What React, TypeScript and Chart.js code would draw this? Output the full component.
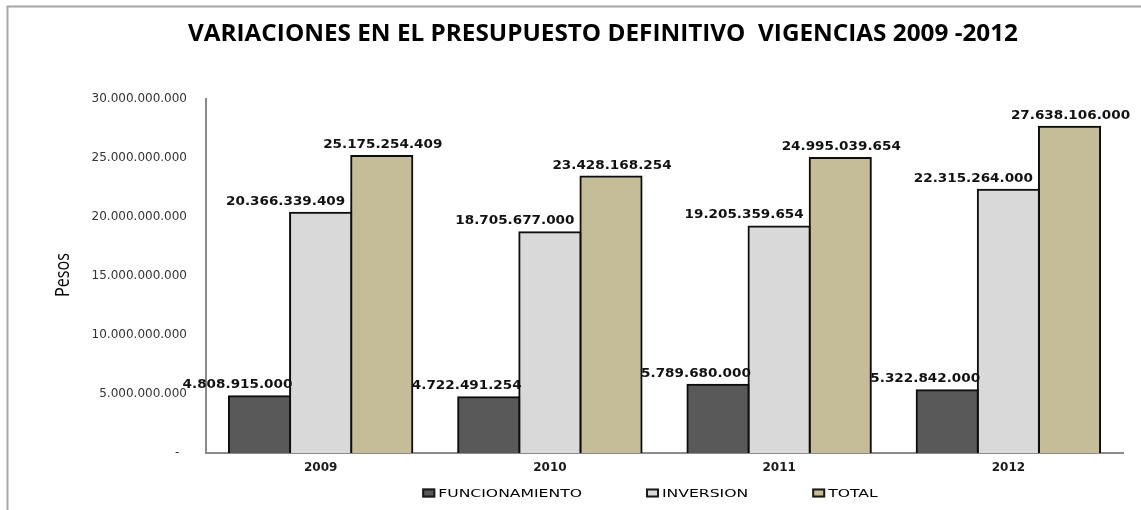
import React, { useEffect, useRef } from "react";
import { Chart, registerables } from "chart.js";

Chart.register(...registerables);

const categories = ["2009", "2010", "2011", "2012"];
const funcionamiento = [4808915000, 4722491254, 5789680000, 5322842000];
const inversion = [20366339409, 18705677000, 19205359654, 22315264000];
const total = [25175254409, 23428168254, 24995039654, 27638106000];
const seriesNames = ["FUNCIONAMIENTO", "INVERSION", "TOTAL"];
const yTickLabels = [
  "-",
  "5.000.000.000",
  "10.000.000.000",
  "15.000.000.000",
  "20.000.000.000",
  "25.000.000.000",
  "30.000.000.000",
];
const chartTitle = "VARIACIONES EN EL PRESUPUESTO DEFINITIVO  VIGENCIAS 2009 -2012";
const yAxisTitle = "Pesos";

const colors = ["#595959", "#D9D9D9", "#C4BD97"];
const labelOffsets = [-22, -35, 1];

function fmt(v: number): string {
  return Math.round(v)
    .toString()
    .replace(/\B(?=(\d{3})+(?!\d))/g, ".");
}

function drawText(
  ctx: CanvasRenderingContext2D,
  text: string,
  x: number,
  y: number,
  font: string,
  color: string,
  sx: number,
  align: "left" | "center" | "right",
  baseline: CanvasTextBaseline = "alphabetic",
  targetWidth?: number
): number {
  ctx.save();
  ctx.font = font;
  ctx.fillStyle = color;
  ctx.textAlign = "left";
  ctx.textBaseline = baseline;
  const mw = ctx.measureText(text).width;
  const s = targetWidth ? targetWidth / mw : sx;
  const w = mw * s;
  const x0 = align === "center" ? x - w / 2 : align === "right" ? x - w : x;
  ctx.translate(x0, y);
  ctx.scale(s, 1);
  ctx.fillText(text, 0, 0);
  ctx.restore();
  return w;
}

const decorPlugin = {
  id: "decor",
  beforeDraw(chart: any) {
    const ctx: CanvasRenderingContext2D = chart.ctx;
    ctx.save();
    ctx.fillStyle = "#ffffff";
    ctx.fillRect(0, 0, chart.width, chart.height);
    ctx.strokeStyle = "#a6a6a6";
    ctx.lineWidth = 2;
    ctx.beginPath();
    ctx.moveTo(7.5, chart.height);
    ctx.lineTo(7.5, 6.5);
    ctx.lineTo(chart.width, 6.5);
    ctx.stroke();
    ctx.restore();
  },
  afterDatasetsDraw(chart: any) {
    const ctx: CanvasRenderingContext2D = chart.ctx;
    chart.data.datasets.forEach((ds: any, i: number) => {
      const meta = chart.getDatasetMeta(i);
      meta.data.forEach((bar: any, j: number) => {
        drawText(
          ctx,
          fmt(ds.data[j]),
          bar.x + labelOffsets[i],
          bar.y - 8,
          'bold 12px "DejaVu Sans"',
          "#111111",
          1.13,
          "center"
        );
      });
    });
  },
  afterDraw(chart: any) {
    const ctx: CanvasRenderingContext2D = chart.ctx;
    // Title
    drawText(ctx, chartTitle, 603, 41, 'bold 23px "Liberation Sans Narrow", "Open Sans"', "#000000", 1, "center", "alphabetic", 830);
    // Y axis title
    ctx.save();
    ctx.translate(63, 275);
    ctx.rotate(-Math.PI / 2);
    drawText(ctx, yAxisTitle, 0, 0, '20px "Liberation Sans Narrow", "Open Sans"', "#000000", 1, "center", "middle", 44);
    ctx.restore();
    // Legend
    const font = '11px "DejaVu Sans"';
    const sx = 1.42;
    const boxW = 13;
    const boxH = 9;
    const gapBoxText = 3;
    const itemGap = 64;
    ctx.save();
    ctx.font = font;
    const widths = seriesNames.map((n) => ctx.measureText(n).width * sx);
    ctx.restore();
    const totalW =
      widths.reduce((a, b) => a + b, 0) + seriesNames.length * (boxW + gapBoxText) + itemGap * (seriesNames.length - 1);
    let x = 650 - totalW / 2;
    const cy = 493;
    seriesNames.forEach((name, i) => {
      ctx.save();
      ctx.fillStyle = chart.data.datasets[i].backgroundColor;
      ctx.fillRect(x, cy - boxH / 2, boxW, boxH);
      ctx.strokeStyle = "#1a1a1a";
      ctx.lineWidth = 2;
      ctx.strokeRect(x + 1, cy - boxH / 2 + 1, boxW - 2, boxH - 2);
      ctx.restore();
      x += boxW + gapBoxText;
      drawText(ctx, name, x, cy + 4, font, "#000000", sx, "left");
      x += widths[i] + itemGap;
    });
  },
};

export default function App() {
  const canvasRef = useRef<HTMLCanvasElement | null>(null);

  useEffect(() => {
    document.body.style.margin = "0";
    const canvas = canvasRef.current;
    if (!canvas) return;
    const seriesData = [funcionamiento, inversion, total];
    const chart = new Chart(canvas, {
      type: "bar",
      data: {
        labels: categories,
        datasets: seriesNames.map((name, i) => ({
          label: name,
          data: seriesData[i],
          backgroundColor: colors[i],
          borderColor: "#0d0d0d",
          borderWidth: 2,
          inflateAmount: 1,
          categoryPercentage: 0.8,
          barPercentage: 1.0,
        })),
      },
      options: {
        responsive: false,
        animation: false,
        devicePixelRatio: 1,
        layout: { padding: { left: 0, right: 18, top: 99, bottom: 27 } },
        plugins: {
          legend: { display: false },
          title: { display: false },
          tooltip: { enabled: false },
        },
        scales: {
          x: {
            grid: { display: false, drawTicks: false },
            border: { display: true, color: "#8a8a8a", width: 2 },
            ticks: {
              font: { family: "DejaVu Sans", size: 12, weight: "bold" },
              color: "#1a1a1a",
              padding: 8,
              callback: (_v: any, i: number) => categories[i],
            },
            afterFit: (scale: any) => {
              scale.height = 30;
            },
          },
          y: {
            min: 0,
            max: 30000000000,
            grid: { display: false, drawTicks: false },
            border: { display: true, color: "#8a8a8a", width: 2 },
            ticks: {
              stepSize: 5000000000,
              font: { family: "DejaVu Sans", size: 12 },
              color: "#333333",
              padding: 19,
              callback: (_v: any, i: number) => {
                const l = yTickLabels[i];
                return l === "-" ? "-  " : l;
              },
            },
            afterFit: (scale: any) => {
              scale.width = 206;
            },
          },
        },
      },
      plugins: [decorPlugin],
    } as any);
    return () => {
      chart.destroy();
    };
  }, []);

  return (
    <div style={{ width: 1141, height: 510, position: "relative" }}>
      <canvas ref={canvasRef} width={1141} height={510} style={{ display: "block" }} />
    </div>
  );
}
